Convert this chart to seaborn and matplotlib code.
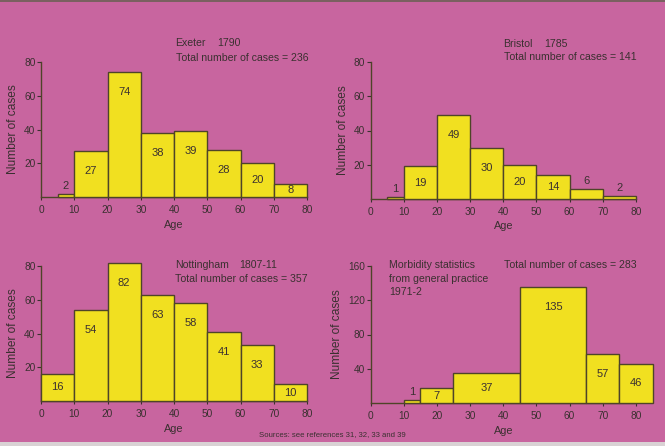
import numpy as np
import pandas as pd
import matplotlib
matplotlib.use("Agg")
import matplotlib.pyplot as plt
import seaborn as sns

# ---------------- data ----------------
age_ticks = [0, 10, 20, 30, 40, 50, 60, 70, 80]

exeter_edges = [5, 10, 20, 30, 40, 50, 60, 70, 80]
exeter_counts = [2, 27, 74, 38, 39, 28, 20, 8]

bristol_edges = [5, 10, 20, 30, 40, 50, 60, 70, 80]
bristol_counts = [1, 19, 49, 30, 20, 14, 6, 2]

nott_edges = [0, 10, 20, 30, 40, 50, 60, 70, 80]
nott_counts = [16, 54, 82, 63, 58, 41, 33, 10]

morb_edges = [10, 15, 25, 45, 65, 75, 85]
morb_counts = [1, 7, 37, 135, 57, 46]
morb_heights = [3.5, 17, 35, 135, 57, 46]   # bar heights as drawn

# ---------------- style ----------------
BG = "#C8659F"
BAR = "#F1E020"
EDGE = "#4E4428"
TXT = "#3A3030"
W, H = 665, 446

sns.set_style("white")
plt.rcParams["font.family"] = ["Liberation Sans", "DejaVu Sans"]
plt.rcParams["text.color"] = TXT
plt.rcParams["axes.labelcolor"] = TXT
plt.rcParams["xtick.color"] = TXT
plt.rcParams["ytick.color"] = TXT

fig = plt.figure(figsize=(W / 100, H / 100), dpi=100)
fig.patch.set_facecolor(BG)


def px_axes(left, right, base, top):
    return fig.add_axes([left / W, (H - base) / H, (right - left) / W, (base - top) / H])


def panel(ax, edges, heights, labels, ymax, yticks, base_px, top_px):
    mids = [(a + b) / 2 for a, b in zip(edges[:-1], edges[1:])]
    df = pd.DataFrame({"age": mids, "n": heights})
    sns.histplot(data=df, x="age", weights="n", bins=edges, ax=ax,
                 color=BAR, edgecolor=EDGE, linewidth=1.0, alpha=1.0,
                 element="bars", fill=True)
    for p in ax.patches:
        p.set_facecolor(BAR)
        p.set_clip_on(False)
        p.set_zorder(3)
    ax.set_facecolor("none")
    ax.set_xlim(0, 80)
    ax.set_ylim(0, ymax)
    ax.set_xticks(age_ticks)
    ax.set_xticklabels([str(t) for t in age_ticks], fontsize=7.3)
    ax.set_yticks(yticks)
    ax.set_yticklabels([str(t) for t in yticks], fontsize=7.3)
    ax.tick_params(axis="x", length=2.5, width=0.8, pad=3, direction="out", bottom=True)
    ax.tick_params(axis="y", length=3, width=0.8, pad=1, direction="out", left=True)
    for s in ["top", "right"]:
        ax.spines[s].set_visible(False)
    for s in ["left", "bottom"]:
        ax.spines[s].set_color(EDGE)
        ax.spines[s].set_linewidth(1.0)
    ax.set_xlabel("Age", fontsize=7.8, labelpad=3.5)
    ax.set_ylabel("Number of cases", fontsize=8.6, labelpad=3.5)
    ppu = (base_px - top_px) / ymax  # pixels per unit
    for m, h, lab in zip(mids, heights, labels):
        hp = h * ppu
        if hp < 12:
            y = h + 8 / ppu
        else:
            y = max(h / 2, h - 20 / ppu)
        ax.text(m, y, str(lab), ha="center", va="center", fontsize=8,
                color=TXT, zorder=5)


ax1 = px_axes(41, 307, 197, 62)
panel(ax1, exeter_edges, exeter_counts, exeter_counts, 80, [20, 40, 60, 80], 197, 62)
ax2 = px_axes(370.5, 636, 199, 62)
panel(ax2, bristol_edges, bristol_counts, bristol_counts, 80, [20, 40, 60, 80], 199, 62)
ax3 = px_axes(41, 307, 401, 266)
panel(ax3, nott_edges, nott_counts, nott_counts, 80, [20, 40, 60, 80], 401, 266)
ax4 = px_axes(370.5, 636, 403, 266)
panel(ax4, morb_edges, morb_heights, morb_counts, 160, [40, 80, 120, 160], 403, 266)


def ftext(x, y, s, size=7.6, **kw):
    fig.text(x / W, 1 - y / H, s, fontsize=size, va="center", ha="left", color=TXT, **kw)


ftext(175.5, 43, "Exeter")
ftext(217.3, 43, "1790")
ftext(175.5, 58, "Total number of cases = 236")
ftext(503.5, 44, "Bristol")
ftext(544, 44, "1785")
ftext(503.5, 57, "Total number of cases = 141")
ftext(175, 265, "Nottingham")
ftext(239.3, 265, "1807-11")
ftext(175, 279, "Total number of cases = 357")
ftext(389, 265, "Morbidity statistics")
ftext(389, 279, "from general practice")
ftext(389, 292, "1971-2")
ftext(503.5, 265, "Total number of cases = 283")
fig.text(332 / W, 1 - 435 / H, "Sources: see references 31, 32, 33 and 39",
         fontsize=5.6, ha="center", va="center", color=TXT)

# page border strips
fig.add_artist(plt.Rectangle((0, 1 - 2 / H), 1, 2 / H, transform=fig.transFigure,
                             color="#7a6060", lw=0))
fig.add_artist(plt.Rectangle((0, 0), 1, 4 / H, transform=fig.transFigure,
                             color="#d9d2d4", lw=0))

fig.savefig("out.png", dpi=100, facecolor=fig.get_facecolor())
